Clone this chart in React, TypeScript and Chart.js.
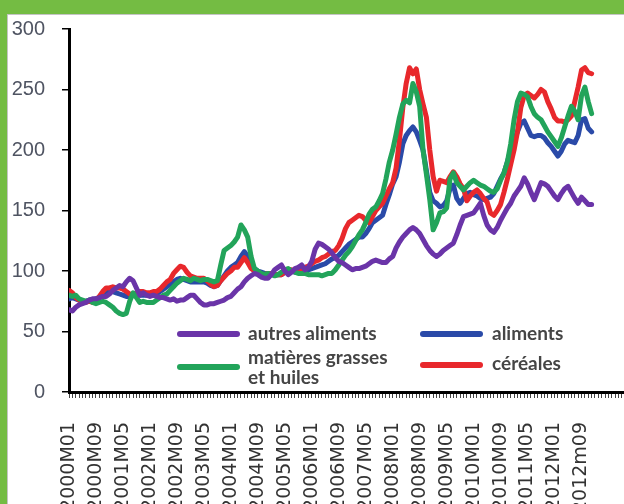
import React, { useEffect, useRef } from 'react';
import { Chart, registerables } from 'chart.js';

Chart.register(...registerables);

// x-axis tick labels, one every 8 months starting 2000M01
const tickLabels = [
  '2000M01', '2000M09', '2001M05', '2002M01', '2002M09', '2003M05', '2004M01',
  '2004M09', '2005M05', '2006M01', '2006M09', '2007M05', '2008M01', '2008M09',
  '2009M05', '2010M01', '2010M09', '2011M05', '2012M01', '2012m09',
];

const seriesNames = ['autres aliments', 'matières grasses\net huiles', 'céréales', 'aliments'];
const seriesColors = ['#6a34a8', '#22a45a', '#e8282c', '#2a4aa8'];

// monthly values, 2000M01 .. 2012M12
const autresAliments = [
  68, 67, 70, 72, 73, 74, 76, 77, 77, 78, 79, 79,
  81, 84, 86, 88, 87, 91, 94, 92, 86, 80, 82, 80,
  79, 80, 79, 78, 78, 77, 76, 77, 75, 76, 76, 78,
  80, 80, 77, 74, 72, 72, 73, 73, 74, 75, 76, 78,
  79, 82, 85, 87, 91, 94, 96, 98, 97, 95, 94, 94,
  97, 101, 103, 105, 100, 97, 99, 102, 103, 105, 101, 103,
  108, 118, 123, 122, 120, 118, 115, 111, 108, 107, 105, 103,
  101, 102, 102, 103, 104, 106, 108, 109, 108, 107, 107, 110,
  112, 119, 124, 128, 131, 134, 136, 134, 131, 126, 121, 117,
  114, 112, 114, 117, 119, 121, 123, 130, 138, 145, 146, 147,
  148, 152, 156, 146, 138, 134, 132, 136, 142, 147, 152, 156,
  162, 166, 170, 177, 172, 165, 159, 166, 173, 172, 170, 166,
  162, 159, 164, 168, 170, 165, 160, 156, 161, 158, 155, 155,
];

const matieresGrasses = [
  80, 79, 80, 77, 76, 75, 76, 74, 73, 74, 75, 74,
  72, 70, 67, 65, 64, 65, 75, 82, 78, 74, 75, 74,
  74, 74, 76, 78, 80, 81, 84, 87, 90, 92, 94, 93,
  92, 94, 93, 92, 93, 93, 92, 91, 92, 105, 117, 119,
  121, 124, 128, 138, 134, 128, 112, 102, 100, 98, 97, 98,
  97, 96, 97, 99, 101, 102, 100, 99, 98, 98, 98, 97,
  97, 97, 97, 96, 97, 98, 98, 101, 105, 109, 113, 116,
  120, 125, 130, 134, 140, 147, 151, 153, 158, 164, 176, 190,
  200, 213, 227, 238, 241, 239, 255, 248, 236, 200, 180, 159,
  134, 140, 148, 149, 152, 176, 181, 173, 170, 167, 170, 173,
  175, 173, 171, 170, 168, 166, 165, 168, 175, 181, 190, 205,
  225, 240, 247, 246, 244, 236, 230, 227, 225, 220, 215, 211,
  207, 203, 210, 219, 228, 236, 232, 225, 245, 252, 240, 230,
];

const cereales = [
  84, 82, 78, 76, 74, 74, 75, 74, 76, 79, 83, 86,
  86, 87, 86, 86, 85, 83, 81, 80, 82, 83, 83, 82,
  82, 83, 83, 85, 88, 91, 93, 98, 101, 104, 103, 99,
  96, 95, 94, 94, 94, 92, 89, 87, 88, 92, 95, 98,
  100, 103, 103, 107, 111, 107, 102, 100, 98, 97, 97, 98,
  98, 97, 97, 97, 99, 101, 101, 100, 101, 102, 103, 104,
  106, 108, 109, 111, 112, 114, 116, 117, 121, 127, 135, 140,
  142, 144, 146, 145, 142, 140, 145, 150, 153, 156, 162, 168,
  173, 185, 208, 235, 255, 268, 263, 267, 250, 238, 227, 200,
  178, 166, 175, 174, 173, 178, 182, 178, 172, 168, 158, 162,
  165, 167, 164, 160, 157, 148, 146, 150, 155, 165, 176, 188,
  200, 215, 235, 245, 247, 245, 243, 246, 250, 248, 240, 234,
  227, 224, 224, 223, 225, 228, 240, 252, 266, 268, 264, 263,
];

const aliments = [
  77, 78, 77, 76, 75, 75, 76, 76, 77, 78, 80, 82,
  83, 83, 82, 81, 80, 79, 79, 80, 81, 80, 80, 80,
  80, 80, 81, 83, 85, 87, 89, 91, 93, 94, 93, 92,
  91, 91, 91, 91, 91, 90, 88, 87, 88, 92, 96, 100,
  103, 105, 107, 112, 116, 112, 106, 102, 100, 99, 98, 98,
  98, 97, 97, 97, 99, 101, 100, 99, 99, 100, 101, 101,
  102, 103, 104, 105, 106, 108, 110, 111, 113, 116, 119, 122,
  124, 126, 128, 128, 131, 135, 140, 142, 144, 146, 155, 163,
  172, 178, 190, 205, 212, 216, 219, 215, 208, 200, 183, 165,
  158, 156, 153, 154, 158, 168, 171, 160, 156, 160, 164, 165,
  163, 162, 160, 159, 160, 161, 164, 170, 176, 181, 190, 200,
  208, 215, 222, 224, 218, 212, 211, 212, 212, 210, 206, 203,
  199, 195, 199, 205, 208, 207, 206, 212, 225, 226, 218, 215,
];

const seriesValues = [autresAliments, matieresGrasses, cereales, aliments];

const legendPlugin = {
  id: 'customLegend',
  afterDraw(chart: any) {
    const { ctx, chartArea } = chart;
    const L = chartArea.left;
    const B = chartArea.bottom;
    const slots = [
      { lx: L + 108, ly: B - 58, tx: L + 179, ty: B - 58 },
      { lx: L + 108, ly: B - 25, tx: L + 179, ty: B - 34 },
      { lx: L + 351, ly: B - 27, tx: L + 423, ty: B - 28 },
      { lx: L + 351, ly: B - 58, tx: L + 423, ty: B - 58 },
    ];
    ctx.save();
    chart.data.datasets.forEach((ds: any, i: number) => {
      const s = slots[i];
      ctx.strokeStyle = ds.borderColor;
      ctx.lineWidth = 6;
      ctx.lineCap = 'round';
      ctx.beginPath();
      ctx.moveTo(s.lx + 3, s.ly);
      ctx.lineTo(s.lx + 60, s.ly);
      ctx.stroke();
      ctx.fillStyle = '#454545';
      ctx.font = 'bold 19px Lato';
      ctx.textAlign = 'left';
      ctx.textBaseline = 'middle';
      String(ds.label).split('\n').forEach((line: string, k: number) => {
        ctx.fillText(line, s.tx, s.ty + k * 20);
      });
    });
    ctx.restore();
  },
};

export default function App() {
  const ref = useRef<HTMLCanvasElement>(null);
  useEffect(() => {
    const chart = new Chart(ref.current as HTMLCanvasElement, {
      type: 'line',
      data: {
        datasets: seriesValues.map((vals, i) => ({
          label: seriesNames[i],
          data: vals.map((v, m) => ({ x: m, y: v })),
          borderColor: seriesColors[i],
          backgroundColor: seriesColors[i],
          borderWidth: 5,
          pointRadius: 0,
          tension: 0,
          borderJoinStyle: 'round',
          borderCapStyle: 'round',
          fill: false,
        })),
      },
      options: {
        animation: false,
        responsive: false,
        events: [],
        layout: { padding: { top: 0, left: 0, right: 13, bottom: 0 } },
        plugins: { legend: { display: false }, tooltip: { enabled: false } },
        scales: {
          x: {
            type: 'linear',
            min: 0,
            max: 170,
            afterFit: (s: any) => { s.height = 148; },
            border: { display: true, color: '#000', width: 3 },
            grid: { display: true, drawOnChartArea: false, drawTicks: true, tickLength: 6, color: '#444', lineWidth: 1 },
            ticks: {
              stepSize: 1,
              autoSkip: false,
              minRotation: 90,
              maxRotation: 90,
              padding: 24,
              color: '#333',
              font: { family: 'DejaVu Sans', size: 19 },
              callback: (v: any) => (Number(v) % 8 === 0 ? (tickLabels[Number(v) / 8] ?? '') : ''),
            },
          },
          y: {
            min: 0,
            max: 300,
            afterFit: (s: any) => { s.width = 60; },
            border: { display: true, color: '#000', width: 3 },
            grid: { display: true, drawOnChartArea: false, drawTicks: true, tickLength: 7, color: '#000', lineWidth: 1.5 },
            ticks: {
              stepSize: 50,
              padding: 17,
              color: '#4f5462',
              font: { family: 'Liberation Sans', size: 20 },
            },
          },
        },
      },
      plugins: [legendPlugin],
    } as any);
    return () => chart.destroy();
  }, []);

  return (
    <div style={{ position: 'fixed', left: 0, top: 0, width: 624, height: 504, overflow: 'hidden', background: '#74bc43' }}>
      <div style={{ position: 'absolute', left: 7, top: 14, width: 700, height: 600, background: '#fff', border: '1px solid #c4c4c4' }} />
      <canvas ref={ref} width={680} height={540} style={{ position: 'absolute', left: 9, top: 0, width: 680, height: 540 }} />
    </div>
  );
}
